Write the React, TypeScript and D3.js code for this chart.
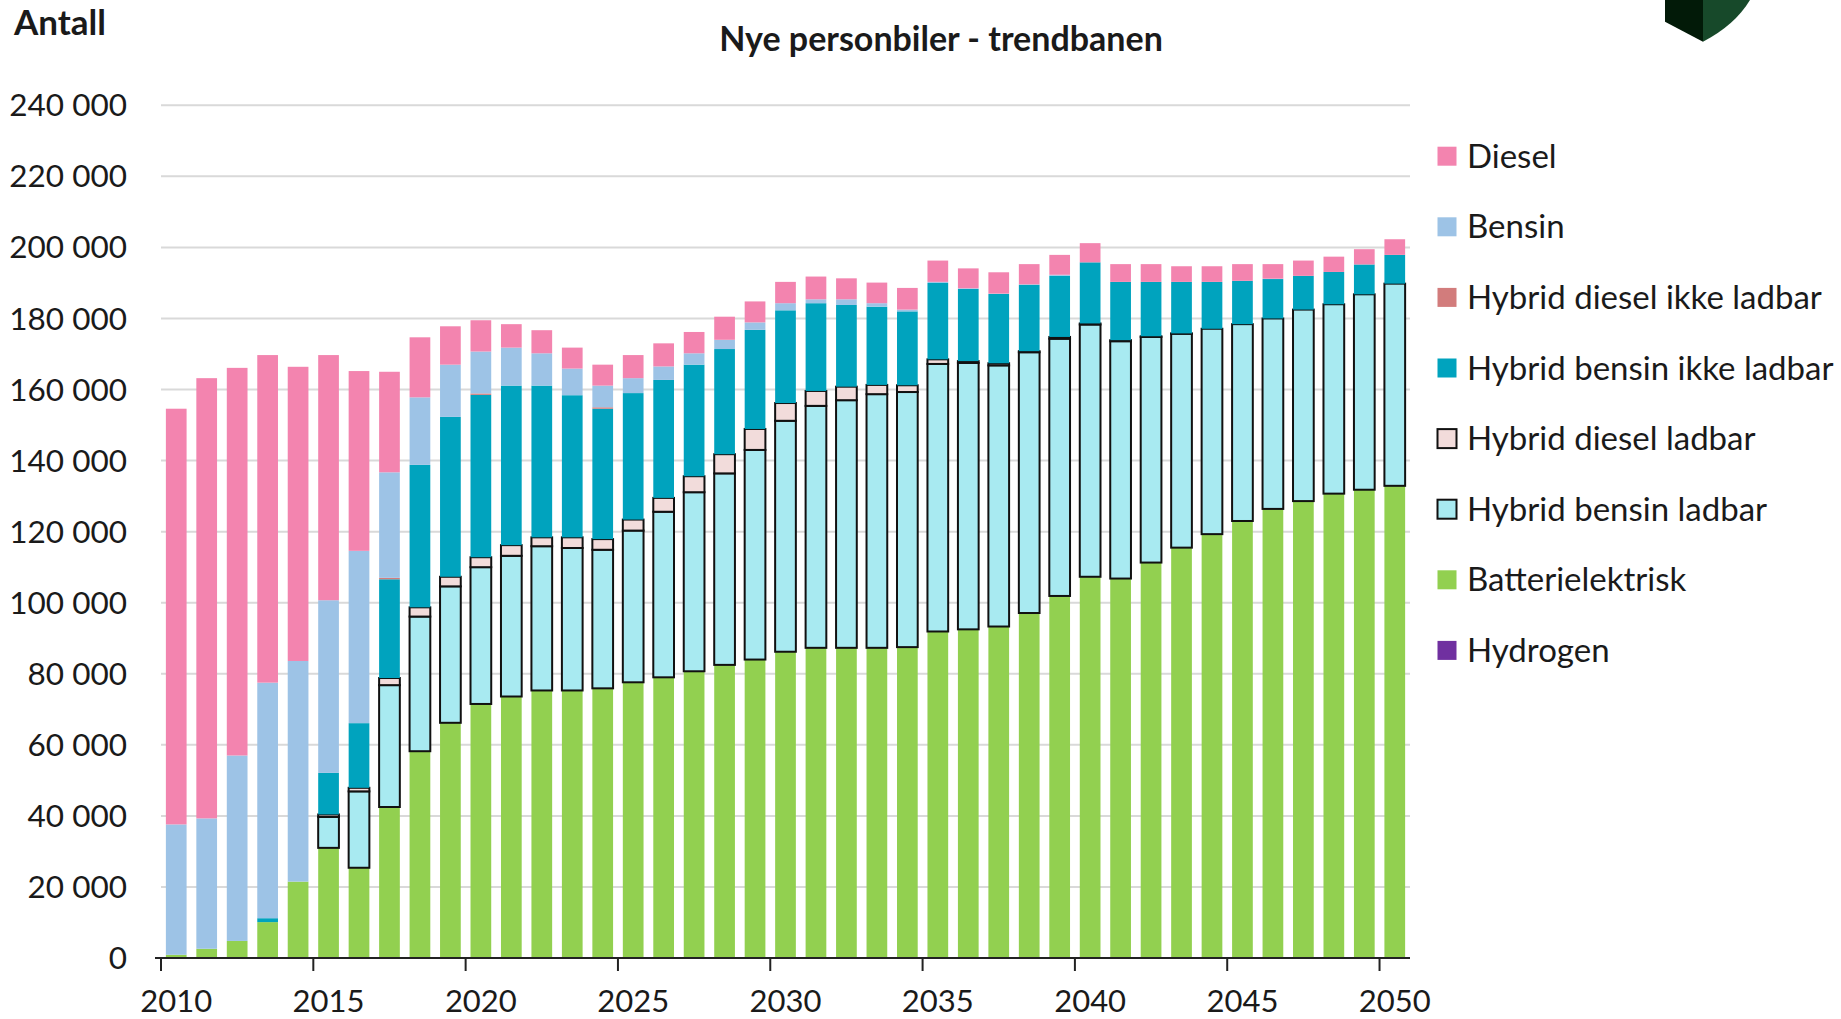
import React from "react";
import * as d3 from "d3";

// ─── Data ────────────────────────────────────────────────────────────────────
const YEARS = d3.range(2010, 2051).map(String);

const HYDROGEN = YEARS.map(() => 0);
const BATTERI = [
  900, 2600, 4800, 10100, 21500, 31000, 25400, 42500, 58200, 66200,
  71500, 73600, 75300, 75300, 75900, 77600, 79000, 80700, 82500, 84000,
  86200, 87300, 87300, 87300, 87500, 91900, 92500, 93300, 97100, 101900,
  107300, 106800, 111300, 115500, 119300, 123000, 126400, 128600, 130700, 131800,
  132900,
];
const HYB_BENSIN_LADBAR = [
  0, 0, 0, 0, 0, 8700, 21500, 34300, 37900, 38400,
  38500, 39600, 40600, 40100, 39000, 42700, 46600, 50400, 53900, 59000,
  65000, 68100, 69700, 71400, 71800, 75300, 75000, 73500, 73400, 72400,
  71000, 66800, 63500, 60200, 57800, 55400, 53600, 53900, 53300, 55000,
  56900,
];
const HYB_DIESEL_LADBAR = [
  0, 0, 0, 0, 0, 700, 1000, 2000, 2600, 2700,
  2800, 3000, 2500, 3000, 3000, 3100, 3900, 4500, 5400, 5900,
  5000, 4200, 3800, 2600, 1900, 1300, 500, 600, 300, 500,
  300, 300, 200, 100, 0, 0, 0, 0, 0, 0,
  0,
];
const HYB_BENSIN_IKKE = [
  0, 0, 0, 1100, 0, 11700, 18200, 27800, 40100, 45000,
  45700, 44900, 42700, 40000, 36700, 35600, 33200, 31400, 29600, 27900,
  26100, 24700, 23000, 22000, 20800, 21500, 20300, 19500, 18700, 17200,
  17200, 16400, 15300, 14500, 13200, 12200, 11100, 9500, 9100, 8400,
  8100,
];
const HYB_DIESEL_IKKE = [
  0, 0, 0, 0, 0, 0, 0, 400, 0, 0,
  400, 0, 0, 0, 400, 0, 0, 0, 0, 0,
  0, 0, 0, 0, 0, 0, 0, 0, 0, 0,
  0, 0, 0, 0, 0, 0, 0, 0, 0, 0,
  0,
];
const BENSIN = [
  36700, 36700, 52200, 66300, 62100, 48600, 48500, 29700, 19000, 14700,
  11800, 10700, 9100, 7500, 6100, 4200, 3800, 3200, 2600, 2100,
  2000, 1100, 1600, 1000, 500, 300, 200, 100, 100, 300,
  0, 0, 0, 0, 0, 0, 100, 0, 0, 0,
  0,
];
const DIESEL = [
  117000, 123900, 109100, 92200, 82800, 69000, 50600, 28300, 16900, 10800,
  8800, 6600, 6500, 5900, 5900, 6500, 6500, 6000, 6500, 5900,
  6000, 6400, 5900, 5800, 6100, 6000, 5600, 6000, 5700, 5600,
  5400, 5000, 5000, 4400, 4400, 4700, 4100, 4300, 4300, 4300,
  4400,
];

const Y_TICKS = d3.range(0, 240001, 20000);
const X_LABEL_YEARS = ["2010", "2015", "2020", "2025", "2030", "2035", "2040", "2045", "2050"];

// stacking order bottom → top; legend lists them top → bottom
const SERIES = [
  { key: "Hydrogen", values: HYDROGEN, color: "#7030A0", outline: false },
  { key: "Batterielektrisk", values: BATTERI, color: "#92D050", outline: false },
  { key: "Hybrid bensin ladbar", values: HYB_BENSIN_LADBAR, color: "#A8EAF1", outline: true },
  { key: "Hybrid diesel ladbar", values: HYB_DIESEL_LADBAR, color: "#F2DCDB", outline: true },
  { key: "Hybrid bensin ikke ladbar", values: HYB_BENSIN_IKKE, color: "#00A3BE", outline: false },
  { key: "Hybrid diesel ikke ladbar", values: HYB_DIESEL_IKKE, color: "#D27C7C", outline: false },
  { key: "Bensin", values: BENSIN, color: "#9DC3E6", outline: false },
  { key: "Diesel", values: DIESEL, color: "#F384AF", outline: false },
];

// ─── Layout ──────────────────────────────────────────────────────────────────
const W = 1841;
const H = 1019;
const PLOT = { left: 161, right: 1410, top: 105.3, bottom: 958 };
const FONT = "Lato, 'Open Sans', sans-serif";
const TEXT = "#1a1a1a";
const GRID = "#D9D9D9";
const LEGEND_TOP = 156.2;
const LEGEND_STEP = 70.6;

const fmt = d3.formatLocale({ thousands: " ", grouping: [3], decimal: ",", currency: ["", ""] }).format(",");

export default function App() {
  const table = YEARS.map((year, i) => {
    const row: Record<string, number | string> = { year };
    SERIES.forEach((s) => (row[s.key] = s.values[i]));
    return row;
  });

  const stacked = d3.stack<any>().keys(SERIES.map((s) => s.key))(table);

  const x = d3
    .scaleBand<string>()
    .domain(YEARS)
    .range([PLOT.left, PLOT.right])
    .paddingInner(0.32)
    .paddingOuter(0.16);

  const y = d3.scaleLinear().domain([0, 240000]).range([PLOT.bottom, PLOT.top]);

  const step = x.step();
  // Excel puts the tick marks between categories
  const edge = (yr: string) => (x(yr) as number) - (step * x.paddingInner()) / 2;

  const legendItems = [...SERIES].reverse();

  return (
    <svg
      width={W}
      height={H}
      style={{ position: "absolute", left: 0, top: 0, background: "#fff", fontFamily: FONT }}
    >
      {/* logo fragment in the corner */}
      <path d="M1665,0 L1703,0 L1703,41.7 L1665,21.7 Z" fill="#021a08" />
      <path d="M1703,0 L1750,0 Q1735,25 1703,41.7 Z" fill="#17492a" />

      <text x={14} y={35} fontSize={35} fontWeight={700} fill={TEXT}>
        Antall
      </text>
      <text x={941} y={51} fontSize={34} fontWeight={700} fill={TEXT} textAnchor="middle">
        Nye personbiler - trendbanen
      </text>

      {/* grid + y labels */}
      {Y_TICKS.map((t) => (
        <g key={t}>
          {t > 0 && (
            <line x1={PLOT.left} x2={PLOT.right} y1={y(t)} y2={y(t)} stroke={GRID} strokeWidth={2} />
          )}
          <text x={127} y={y(t)} dy="0.35em" textAnchor="end" fontSize={31.5} fill={TEXT}>
            {fmt(t)}
          </text>
        </g>
      ))}

      {/* bars */}
      {stacked.map((layer, li) => {
        const s = SERIES[li];
        return (
          <g key={s.key}>
            {layer.map((d, i) => {
              const h = y(d[0]) - y(d[1]);
              if (h <= 0) return null;
              return (
                <rect
                  key={i}
                  x={x(YEARS[i])}
                  y={y(d[1])}
                  width={x.bandwidth()}
                  height={h}
                  fill={s.color}
                  stroke={s.outline ? "#111" : "none"}
                  strokeWidth={s.outline ? 2 : 0}
                />
              );
            })}
          </g>
        );
      })}

      {/* x axis */}
      <line x1={PLOT.left - 6} x2={PLOT.right} y1={PLOT.bottom} y2={PLOT.bottom} stroke="#222" strokeWidth={2} />
      {X_LABEL_YEARS.map((yr) => (
        <g key={yr}>
          <line x1={edge(yr)} x2={edge(yr)} y1={PLOT.bottom} y2={PLOT.bottom + 13} stroke="#222" strokeWidth={2} />
          <text
            x={(x(yr) as number) + x.bandwidth() / 2}
            y={1001}
            dy="0.35em"
            textAnchor="middle"
            fontSize={31}
            fill={TEXT}
          >
            {yr}
          </text>
        </g>
      ))}

      {/* legend */}
      {legendItems.map((s, i) => {
        const cy = LEGEND_TOP + i * LEGEND_STEP;
        return (
          <g key={s.key}>
            <rect
              x={1437.5}
              y={cy - 9.5}
              width={19}
              height={19}
              fill={s.color}
              stroke={s.outline ? "#111" : "none"}
              strokeWidth={s.outline ? 2 : 0}
            />
            <text x={1467} y={cy} dy="0.35em" fontSize={33} fill={TEXT}>
              {s.key}
            </text>
          </g>
        );
      })}
    </svg>
  );
}
